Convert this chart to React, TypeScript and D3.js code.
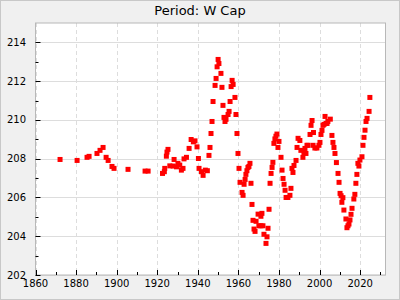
import React from "react";
import * as d3 from "d3";

const years: number[] = [
  1872.1, 1880.5, 1885.4, 1886.4, 1890.3, 1891.8, 1893.3, 1894.8, 1895.8, 1897.7, 1898.7,
  1905.6, 1914.0, 1915.5, 1922.6, 1923.5, 1923.7, 1924.5, 1924.8, 1925.3, 1926.2, 1927.8,
  1928.3, 1929.5, 1930.2, 1931.1, 1931.9, 1932.7, 1933.2, 1934.4, 1935.7, 1936.7, 1937.8,
  1938.6, 1939.6, 1940.3, 1940.6, 1941.8, 1942.6, 1943.7, 1944.7, 1945.5, 1946.0, 1946.5,
  1947.0, 1947.5, 1948.5, 1949.0, 1949.5, 1950.0, 1950.4, 1951.4, 1951.9, 1952.4, 1952.9,
  1953.4, 1953.9, 1954.9, 1955.4, 1955.9, 1956.4, 1956.9, 1957.4, 1958.3, 1958.8, 1959.3,
  1959.8, 1960.3, 1960.8, 1961.8, 1962.3, 1962.8, 1963.3, 1963.7, 1964.2, 1964.7, 1965.2,
  1965.7, 1966.2, 1966.7, 1967.2, 1967.7, 1968.2, 1968.7, 1969.7, 1970.1, 1971.1, 1971.1,
  1971.6, 1972.1, 1972.6, 1973.6, 1974.1, 1974.6, 1975.1, 1975.6, 1976.1, 1976.6, 1977.0,
  1977.5, 1978.0, 1978.5, 1979.0, 1979.5, 1980.0, 1981.0, 1981.5, 1982.0, 1982.5, 1983.0,
  1983.5, 1984.4, 1985.4, 1985.9, 1986.4, 1986.9, 1987.4, 1988.4, 1988.9, 1989.4, 1990.3,
  1990.8, 1991.8, 1992.3, 1992.8, 1993.3, 1993.8, 1994.3, 1995.3, 1995.8, 1996.3, 1996.8,
  1997.0, 1997.7, 1998.7, 1999.7, 2000.2, 2000.7, 2001.2, 2001.7, 2002.2, 2002.7, 2003.2,
  2003.7, 2004.1, 2005.3, 2006.1, 2006.6, 2007.1, 2007.6, 2008.3, 2009.1, 2009.6, 2010.1,
  2010.6, 2011.0, 2011.5, 2012.0, 2013.0, 2013.5, 2014.0, 2014.5, 2015.0, 2015.5, 2016.0,
  2016.9, 2017.4, 2017.9, 2018.4, 2018.9, 2019.4, 2019.9, 2020.9, 2021.4, 2021.9, 2022.4,
  2022.9, 2023.4, 2024.4, 2024.8,
];

const values: number[] = [
  207.96, 207.91, 208.07, 208.12, 208.27, 208.43, 208.58, 208.07, 207.91, 207.6, 207.5,
  207.45, 207.36, 207.36, 207.24, 207.33, 207.5, 208.13, 208.34, 208.48, 207.63, 207.62,
  207.96, 207.58, 207.76, 207.67, 207.41, 207.5, 207.99, 208.07, 208.53, 208.99, 208.87,
  208.92, 208.61, 208.01, 207.5, 207.33, 207.14, 207.41, 207.38, 208.17, 208.58, 209.3,
  209.92, 210.95, 211.78, 212.14, 212.74, 213.12, 212.91, 212.4, 211.68, 210.75, 210.13,
  209.92, 210.03, 210.28, 210.44, 210.95, 211.72, 212.04, 211.83, 211.16, 210.28, 209.3,
  208.27, 207.5, 206.78, 206.26, 206.11, 206.68, 206.93, 207.19, 207.38, 207.55, 207.6,
  207.76, 206.73, 205.64, 204.82, 204.37, 204.25, 204.77, 205.14, 204.54, 205.03, 204.54,
  205.18, 204.54, 204.1, 203.63, 203.97, 204.41, 205.39, 206.73, 207.24, 207.55, 207.81,
  208.79, 209.02, 209.16, 209.27, 208.58, 208.89, 208.07, 207.41, 206.98, 206.68, 206.37,
  206.0, 206.0, 206.11, 206.47, 207.5, 207.29, 207.65, 207.91, 208.58, 209.05, 208.94,
  208.43, 208.07, 208.32, 208.53, 208.27, 208.69, 208.69, 209.25, 209.72, 209.97, 208.69,
  209.35, 208.55, 208.55, 208.69, 208.84, 209.25, 209.46, 209.72, 209.77, 210.18, 209.82,
  209.82, 209.92, 210.04, 209.2, 208.84, 208.58, 208.27, 207.8, 207.24, 206.78, 206.21,
  206.09, 205.75, 205.99, 205.35, 204.89, 204.44, 204.54, 204.63, 204.84, 205.13, 205.44,
  205.92, 206.16, 206.73, 207.19, 207.76, 207.62, 207.93, 208.1, 208.69, 209.1, 209.47,
  209.92, 210.08, 210.44, 211.16,
];

const xMajorTicks: number[] = [1860, 1880, 1900, 1920, 1940, 1960, 1980, 2000, 2020];
const xMinorTicks: number[] = [1870, 1890, 1910, 1930, 1950, 1970, 1990, 2010, 2030];
const yMajorTicks: number[] = [202, 204, 206, 208, 210, 212, 214];
const yMinorTicks: number[] = [203, 205, 207, 209, 211, 213];
const title = "Period: W Cap";

export default function App() {
  const W = 400;
  const H = 300;
  const L = 35.5;
  const R = 385.5;
  const T = 23;
  const B = 275;
  const x = d3.scaleLinear().domain([1860, 2032.5]).range([L, R]);
  const y = d3.scaleLinear().domain([202, 215]).range([B, T]);
  const font = "DejaVu Sans, sans-serif";
  const ms = 5;

  return (
    <div style={{ position: "fixed", left: 0, top: 0 }}>
      <svg width={W} height={H} style={{ display: "block" }}>
        <rect x={0.5} y={0.5} width={W - 1} height={H - 1} fill="#f0f0f0" stroke="#c8c8c8" />
        <rect x={L} y={T} width={R - L} height={B - T} fill="#ffffff" />
        {yMajorTicks.map((v) => (
          <line key={"gy" + v} x1={L} x2={R} y1={Math.round(y(v)) + 0.5} y2={Math.round(y(v)) + 0.5} stroke="#dddddd" strokeWidth={1} />
        ))}
        {xMajorTicks.map((v) => (
          <line key={"gx" + v} x1={Math.round(x(v)) + 0.5} x2={Math.round(x(v)) + 0.5} y1={T} y2={B} stroke="#dddddd" strokeWidth={1} strokeDasharray="4,3" />
        ))}
        <rect x={L} y={T} width={R - L} height={B - T} fill="none" stroke="#b8b8b8" strokeWidth={1} />
        {yMajorTicks.map((v) => (
          <line key={"ty" + v} x1={L} x2={L + 5} y1={Math.round(y(v)) + 0.5} y2={Math.round(y(v)) + 0.5} stroke="#000" />
        ))}
        {yMinorTicks.map((v) => (
          <line key={"tym" + v} x1={L} x2={L + 3} y1={Math.round(y(v)) + 0.5} y2={Math.round(y(v)) + 0.5} stroke="#000" />
        ))}
        {xMajorTicks.map((v) => (
          <line key={"tx" + v} x1={Math.round(x(v)) + 0.5} x2={Math.round(x(v)) + 0.5} y1={B} y2={B - 5} stroke="#000" />
        ))}
        {xMinorTicks.map((v) => (
          <line key={"txm" + v} x1={Math.round(x(v)) + 0.5} x2={Math.round(x(v)) + 0.5} y1={B} y2={B - 3} stroke="#000" />
        ))}
        {yMajorTicks.map((v) => (
          <text key={"ly" + v} x={26} y={y(v)} dy="0.35em" textAnchor="end" fontFamily={font} fontSize={10} fill="#000">
            {v}
          </text>
        ))}
        {xMajorTicks.map((v) => (
          <text key={"lx" + v} x={x(v)} y={287} textAnchor="middle" fontFamily={font} fontSize={10} fill="#000">
            {v}
          </text>
        ))}
        <text x={W / 2} y={15} textAnchor="middle" fontFamily={font} fontSize={13} fill="#000">
          {title}
        </text>
        <g>
          {years.map((yr, i) => (
            <rect key={"p" + i} x={x(yr) - ms / 2} y={y(values[i]) - ms / 2} width={ms} height={ms} fill="#ff0000" />
          ))}
        </g>
      </svg>
    </div>
  );
}
